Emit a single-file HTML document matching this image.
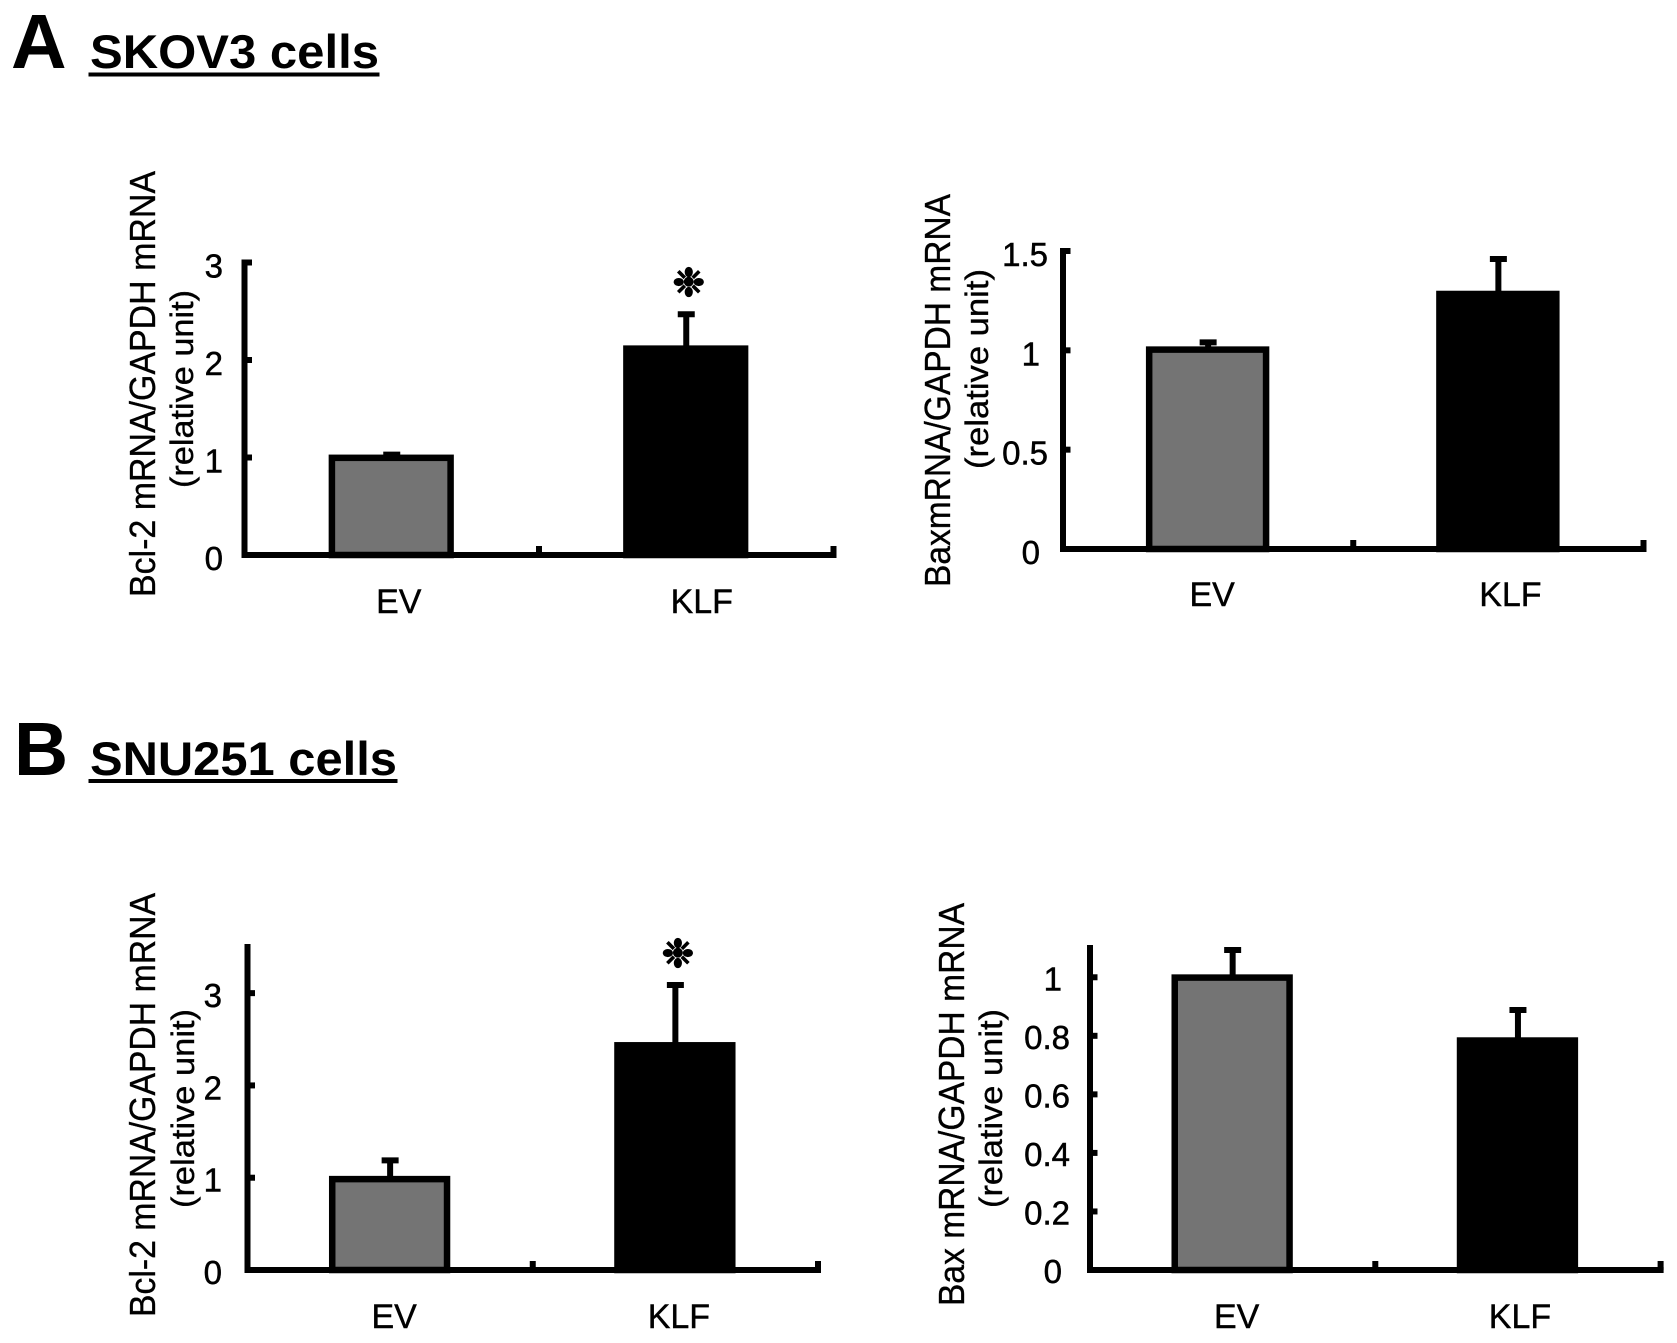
<!DOCTYPE html>
<html>
<head>
<meta charset="utf-8">
<title>Bcl-2 and Bax mRNA in SKOV3 and SNU251 cells</title>
<style>
html,body{margin:0;padding:0;background:#fff;width:1677px;height:1343px;overflow:hidden}
svg{display:block}
text{font-family:"Liberation Sans",sans-serif;fill:#000}
.ylab{stroke:#000;stroke-width:.35px}
</style>
</head>
<body>
<svg id="fig" width="1677" height="1343" viewBox="0 0 1677 1343" xmlns="http://www.w3.org/2000/svg">
<rect width="1677" height="1343" fill="#fff"/>

<text x="11" y="68" font-size="77" font-weight="bold">A</text>
<text x="90" y="68" font-size="47" font-weight="bold" textLength="289" lengthAdjust="spacingAndGlyphs">SKOV3 cells</text>
<rect x="88.5" y="72.5" width="291" height="4"/>

<text x="14" y="775" font-size="75" font-weight="bold">B</text>
<text x="90" y="775" font-size="47" font-weight="bold" textLength="307" lengthAdjust="spacingAndGlyphs">SNU251 cells</text>
<rect x="88.5" y="779" width="309" height="4"/>

<text class="ylab" transform="translate(155 597) rotate(-90)" font-size="36" textLength="426" lengthAdjust="spacingAndGlyphs">Bcl-2 mRNA/GAPDH mRNA</text>
<text class="ylab" transform="translate(193 488) rotate(-90)" font-size="32" textLength="198" lengthAdjust="spacingAndGlyphs">(relative unit)</text>

<text class="ylab" transform="translate(950 587) rotate(-90)" font-size="36" textLength="393" lengthAdjust="spacingAndGlyphs">BaxmRNA/GAPDH mRNA</text>
<text class="ylab" transform="translate(988 469) rotate(-90)" font-size="32" textLength="200" lengthAdjust="spacingAndGlyphs">(relative unit)</text>

<text class="ylab" transform="translate(155 1317) rotate(-90)" font-size="36" textLength="424" lengthAdjust="spacingAndGlyphs">Bcl-2 mRNA/GAPDH mRNA</text>
<text class="ylab" transform="translate(194 1208) rotate(-90)" font-size="32" textLength="199" lengthAdjust="spacingAndGlyphs">(relative unit)</text>

<text class="ylab" transform="translate(964 1306) rotate(-90)" font-size="36" textLength="403" lengthAdjust="spacingAndGlyphs">Bax mRNA/GAPDH mRNA</text>
<text class="ylab" transform="translate(1002 1208) rotate(-90)" font-size="32" textLength="199" lengthAdjust="spacingAndGlyphs">(relative unit)</text>

<g id="charts"></g>
</svg>
<script>
// Data
const categories = ['EV', 'KLF'];

const a1Values = [1.03, 2.15];
const a1Errors = [0.02, 0.34];
const a1Ticks = [0, 1, 2, 3];
const a1Stars = [false, true];

const a2Values = [1.02, 1.30];
const a2Errors = [0.03, 0.17];
const a2Ticks = [0, 0.5, 1, 1.5];
const a2Stars = [false, false];

const b1Values = [1.02, 2.47];
const b1Errors = [0.19, 0.64];
const b1Ticks = [0, 1, 2, 3];
const b1Stars = [false, true];

const b2Values = [1.01, 0.795];
const b2Errors = [0.09, 0.10];
const b2Ticks = [0, 0.2, 0.4, 0.6, 0.8, 1];
const b2Stars = [false, false];

const SVG_NS = 'http://www.w3.org/2000/svg';
const root = document.getElementById('charts');

function make(tag, parent, attrs) {
  const el = document.createElementNS(SVG_NS, tag);
  for (const k in attrs) el.setAttribute(k, attrs[k]);
  parent.appendChild(el);
  return el;
}

function drawPanel(p) {
  const g = make('g', root, {});
  
  

  const yOf = v => p.bottom - v * (p.bottom - p.top) / p.yMax;
  const band = (p.right - p.left) / p.values.length;
  const xOf = i => p.left + band * (i + 0.5);
  const barW = band * 0.42 + 1.5;
  const axisW = 6;

  // error bars
  p.values.forEach((v, i) => {
    const cx = xOf(i);
    const top = yOf(v + p.errors[i]);
    const stem = make('line', g, {x1: cx, x2: cx, y1: yOf(v) + 2, y2: top, stroke: '#000', 'stroke-width': 6});
    
    
    const cap = make('line', g, {x1: cx - 8.5, x2: cx + 8.5, y1: top + 2, y2: top + 2, stroke: '#000', 'stroke-width': 6});
    
    
    if (p.stars[i]) {
      const star = make('text', g, {x: cx + 2.5, y: top - 16, 'text-anchor': 'middle', 'font-size': 39, stroke: '#000', 'stroke-width': 1.3, style: 'font-family:"DejaVu Sans",sans-serif'});
      
      
      star.textContent = '❉';
    }
  });

  // bars
  p.values.forEach((v, i) => {
    const sw = 6.5;
    const bar = make('rect', g, {
      x: xOf(i) - 0.5 - barW / 2 + sw / 2,
      y: yOf(v) + sw / 2,
      width: barW - sw,
      height: Math.max(0, p.bottom - yOf(v) - sw / 2),
      fill: i === 0 ? '#747474' : '#000',
      stroke: '#000',
      'stroke-width': sw
    });
    
    
  });

  // axes
  const yAxis = make('line', g, {x1: p.left, x2: p.left, y1: p.top - 3, y2: p.bottom + 3, stroke: '#000', 'stroke-width': axisW});
  
  
  const xAxis = make('line', g, {x1: p.left - 3, x2: p.right + 3, y1: p.bottom, y2: p.bottom, stroke: '#000', 'stroke-width': axisW});
  
  

  // y ticks and labels
  p.ticks.forEach(t => {
    const tick = make('line', g, {x1: p.left, x2: p.left + 7.5, y1: yOf(t), y2: yOf(t), stroke: '#000', 'stroke-width': 6});
    
    
    const label = String(t);
    const lab = make('text', g, {
      x: label.length === 1 ? p.labelRight - 8 : p.labelRight,
      y: yOf(t) + p.labelDy,
      'text-anchor': 'end',
      'font-size': 33,
      stroke: '#000',
      'stroke-width': 0.5
    });
    
    
    lab.textContent = label;
  });

  // x ticks (band boundaries)
  for (let i = 1; i <= p.values.length; i++) {
    const x = p.left + band * i;
    const tick = make('line', g, {x1: x, x2: x, y1: p.bottom, y2: p.bottom - 9, stroke: '#000', 'stroke-width': 6});
    
    
  }

  // category labels
  categories.forEach((c, i) => {
    const lab = make('text', g, {x: xOf(i) + p.catDx[i], y: p.catY, 'text-anchor': 'middle', 'font-size': 34, stroke: '#000', 'stroke-width': 0.4});
    
    
    lab.textContent = c;
  });
}

drawPanel({id: 'a1', values: a1Values, errors: a1Errors, ticks: a1Ticks, stars: a1Stars, yMax: 3,
  left: 244.5, right: 833.5, top: 262.5, bottom: 555, labelRight: 231, labelDy: 15, catY: 613, catDx: [7, 15.5]});
drawPanel({id: 'a2', values: a2Values, errors: a2Errors, ticks: a2Ticks, stars: a2Stars, yMax: 1.5,
  left: 1063, right: 1643.5, top: 251, bottom: 549, labelRight: 1048, labelDy: 15, catY: 606, catDx: [4, 12]});
drawPanel({id: 'b1', values: b1Values, errors: b1Errors, ticks: b1Ticks, stars: b1Stars, yMax: 3.5,
  left: 247.5, right: 818, top: 947, bottom: 1270, labelRight: 230, labelDy: 14, catY: 1328, catDx: [4, 3.5]});
drawPanel({id: 'b2', values: b2Values, errors: b2Errors, ticks: b2Ticks, stars: b2Stars, yMax: 1.1,
  left: 1090, right: 1660.6, top: 948, bottom: 1270, labelRight: 1070, labelDy: 13, catY: 1328, catDx: [4, 2]});
</script>
</body>
</html>
